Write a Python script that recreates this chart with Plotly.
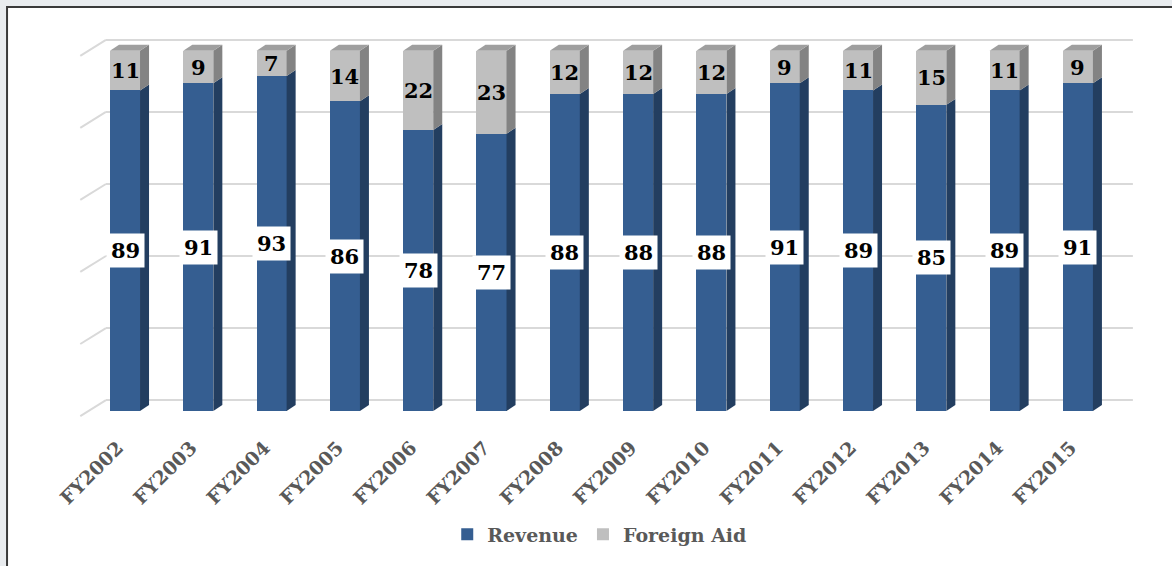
import plotly.graph_objects as go

# ---- data ----
years = ["FY2002", "FY2003", "FY2004", "FY2005", "FY2006", "FY2007", "FY2008",
         "FY2009", "FY2010", "FY2011", "FY2012", "FY2013", "FY2014", "FY2015"]
revenue = [89, 91, 93, 86, 78, 77, 88, 88, 88, 91, 89, 85, 89, 91]
foreign_aid = [11, 9, 7, 14, 22, 23, 12, 12, 12, 9, 11, 15, 11, 9]
grid_vals = [0, 20, 40, 60, 80, 100]

# ---- style ----
BLUE, BLUE_SIDE = "#355E91", "#233E60"
GRAY, GRAY_SIDE, GRAY_TOP = "#BFBFBF", "#838383", "#9F9F9F"
GRID = "#D9D9D9"
TXT = "#595959"
FONT = "DejaVu Serif"

# 3D geometry (category units / percent units)
HALF = 0.205      # half width of the front face
DX = 0.123        # depth offset in x
DY = 1.66         # depth offset in y (percent)
WALL_DY = 3.04    # back wall offset
FLOOR_DY = -1.38  # front plane offset
X_FRONT, X_BACK, X_END = -0.61, -0.26, 13.75

fig = go.Figure()

# back-wall grid lines + left diagonal lines (drawn below the bars)
for v in grid_vals:
    fig.add_shape(type="line", xref="x", yref="y", x0=X_FRONT, y0=v + FLOOR_DY,
                  x1=X_BACK, y1=v + WALL_DY, line=dict(color=GRID, width=2), layer="below")
    fig.add_shape(type="line", xref="x", yref="y", x0=X_BACK, y0=v + WALL_DY,
                  x1=X_END, y1=v + WALL_DY, line=dict(color=GRID, width=2), layer="below")

xs = list(range(len(years)))

# front faces
fig.add_trace(go.Bar(x=xs, y=revenue, name="Revenue", marker=dict(color=BLUE, line=dict(width=0)),
                     width=2 * HALF))
fig.add_trace(go.Bar(x=xs, y=foreign_aid, name="Foreign Aid", marker=dict(color=GRAY, line=dict(width=0)),
                     width=2 * HALF))

# side and top faces
def poly(px, py, color):
    fig.add_trace(go.Scatter(x=px + [px[0]], y=py + [py[0]], mode="lines", fill="toself",
                             fillcolor=color, line=dict(width=0, color=color),
                             hoverinfo="skip", showlegend=False))

for i, (r, a) in enumerate(zip(revenue, foreign_aid)):
    xr = i + HALF
    poly([xr, xr + DX, xr + DX, xr], [0, DY, r + DY, r], BLUE_SIDE)
    poly([xr, xr + DX, xr + DX, xr], [r, r + DY, r + a + DY, r + a], GRAY_SIDE)
    top = r + a
    poly([i - HALF, i - HALF + DX, xr + DX, xr], [top, top + DY, top + DY, top], GRAY_TOP)

# data labels
for i, (r, a) in enumerate(zip(revenue, foreign_aid)):
    fig.add_annotation(x=i, y=r / 2, text=str(r), showarrow=False, bgcolor="white", borderpad=4,
                       font=dict(family=FONT, size=21, color="black", weight="bold"))
    fig.add_annotation(x=i, y=r + a / 2, text=str(a), showarrow=False,
                       font=dict(family=FONT, size=21, color="black", weight="bold"))

# outer frame (white chart area with dark border)
fig.add_shape(type="rect", xref="paper", yref="paper", x0=-0.0583, x1=1.05, y0=-0.5, y1=1.0317,
              fillcolor="white", line=dict(color="#3A3A3A", width=2), layer="below")

fig.update_layout(
    width=1172, height=566,
    margin=dict(l=70, r=22, t=20, b=136),
    paper_bgcolor="#E9ECEF",
    plot_bgcolor="rgba(0,0,0,0)",
    barmode="stack",
    xaxis=dict(range=[-0.7503, 13.9836], tickvals=xs, ticktext=years, tickangle=-45,
               showgrid=False, zeroline=False, showline=False, ticks="",
               ticklabelshift=-7, ticklabelstandoff=4,
               tickfont=dict(family=FONT, size=19, color=TXT, weight="bold")),
    yaxis=dict(range=[-4.70, 108.56], showgrid=False, zeroline=False, showticklabels=False,
               showline=False),
    legend=dict(orientation="h", x=0.4905, y=-0.261, xanchor="center", yanchor="middle",
                traceorder="normal",
                font=dict(family=FONT, size=19, color=TXT, weight="bold"),
                bgcolor="rgba(0,0,0,0)"),
    showlegend=True,
)

fig.write_html("out.html", config={"displayModeBar": False},
               post_script="document.body.style.margin='0';")
